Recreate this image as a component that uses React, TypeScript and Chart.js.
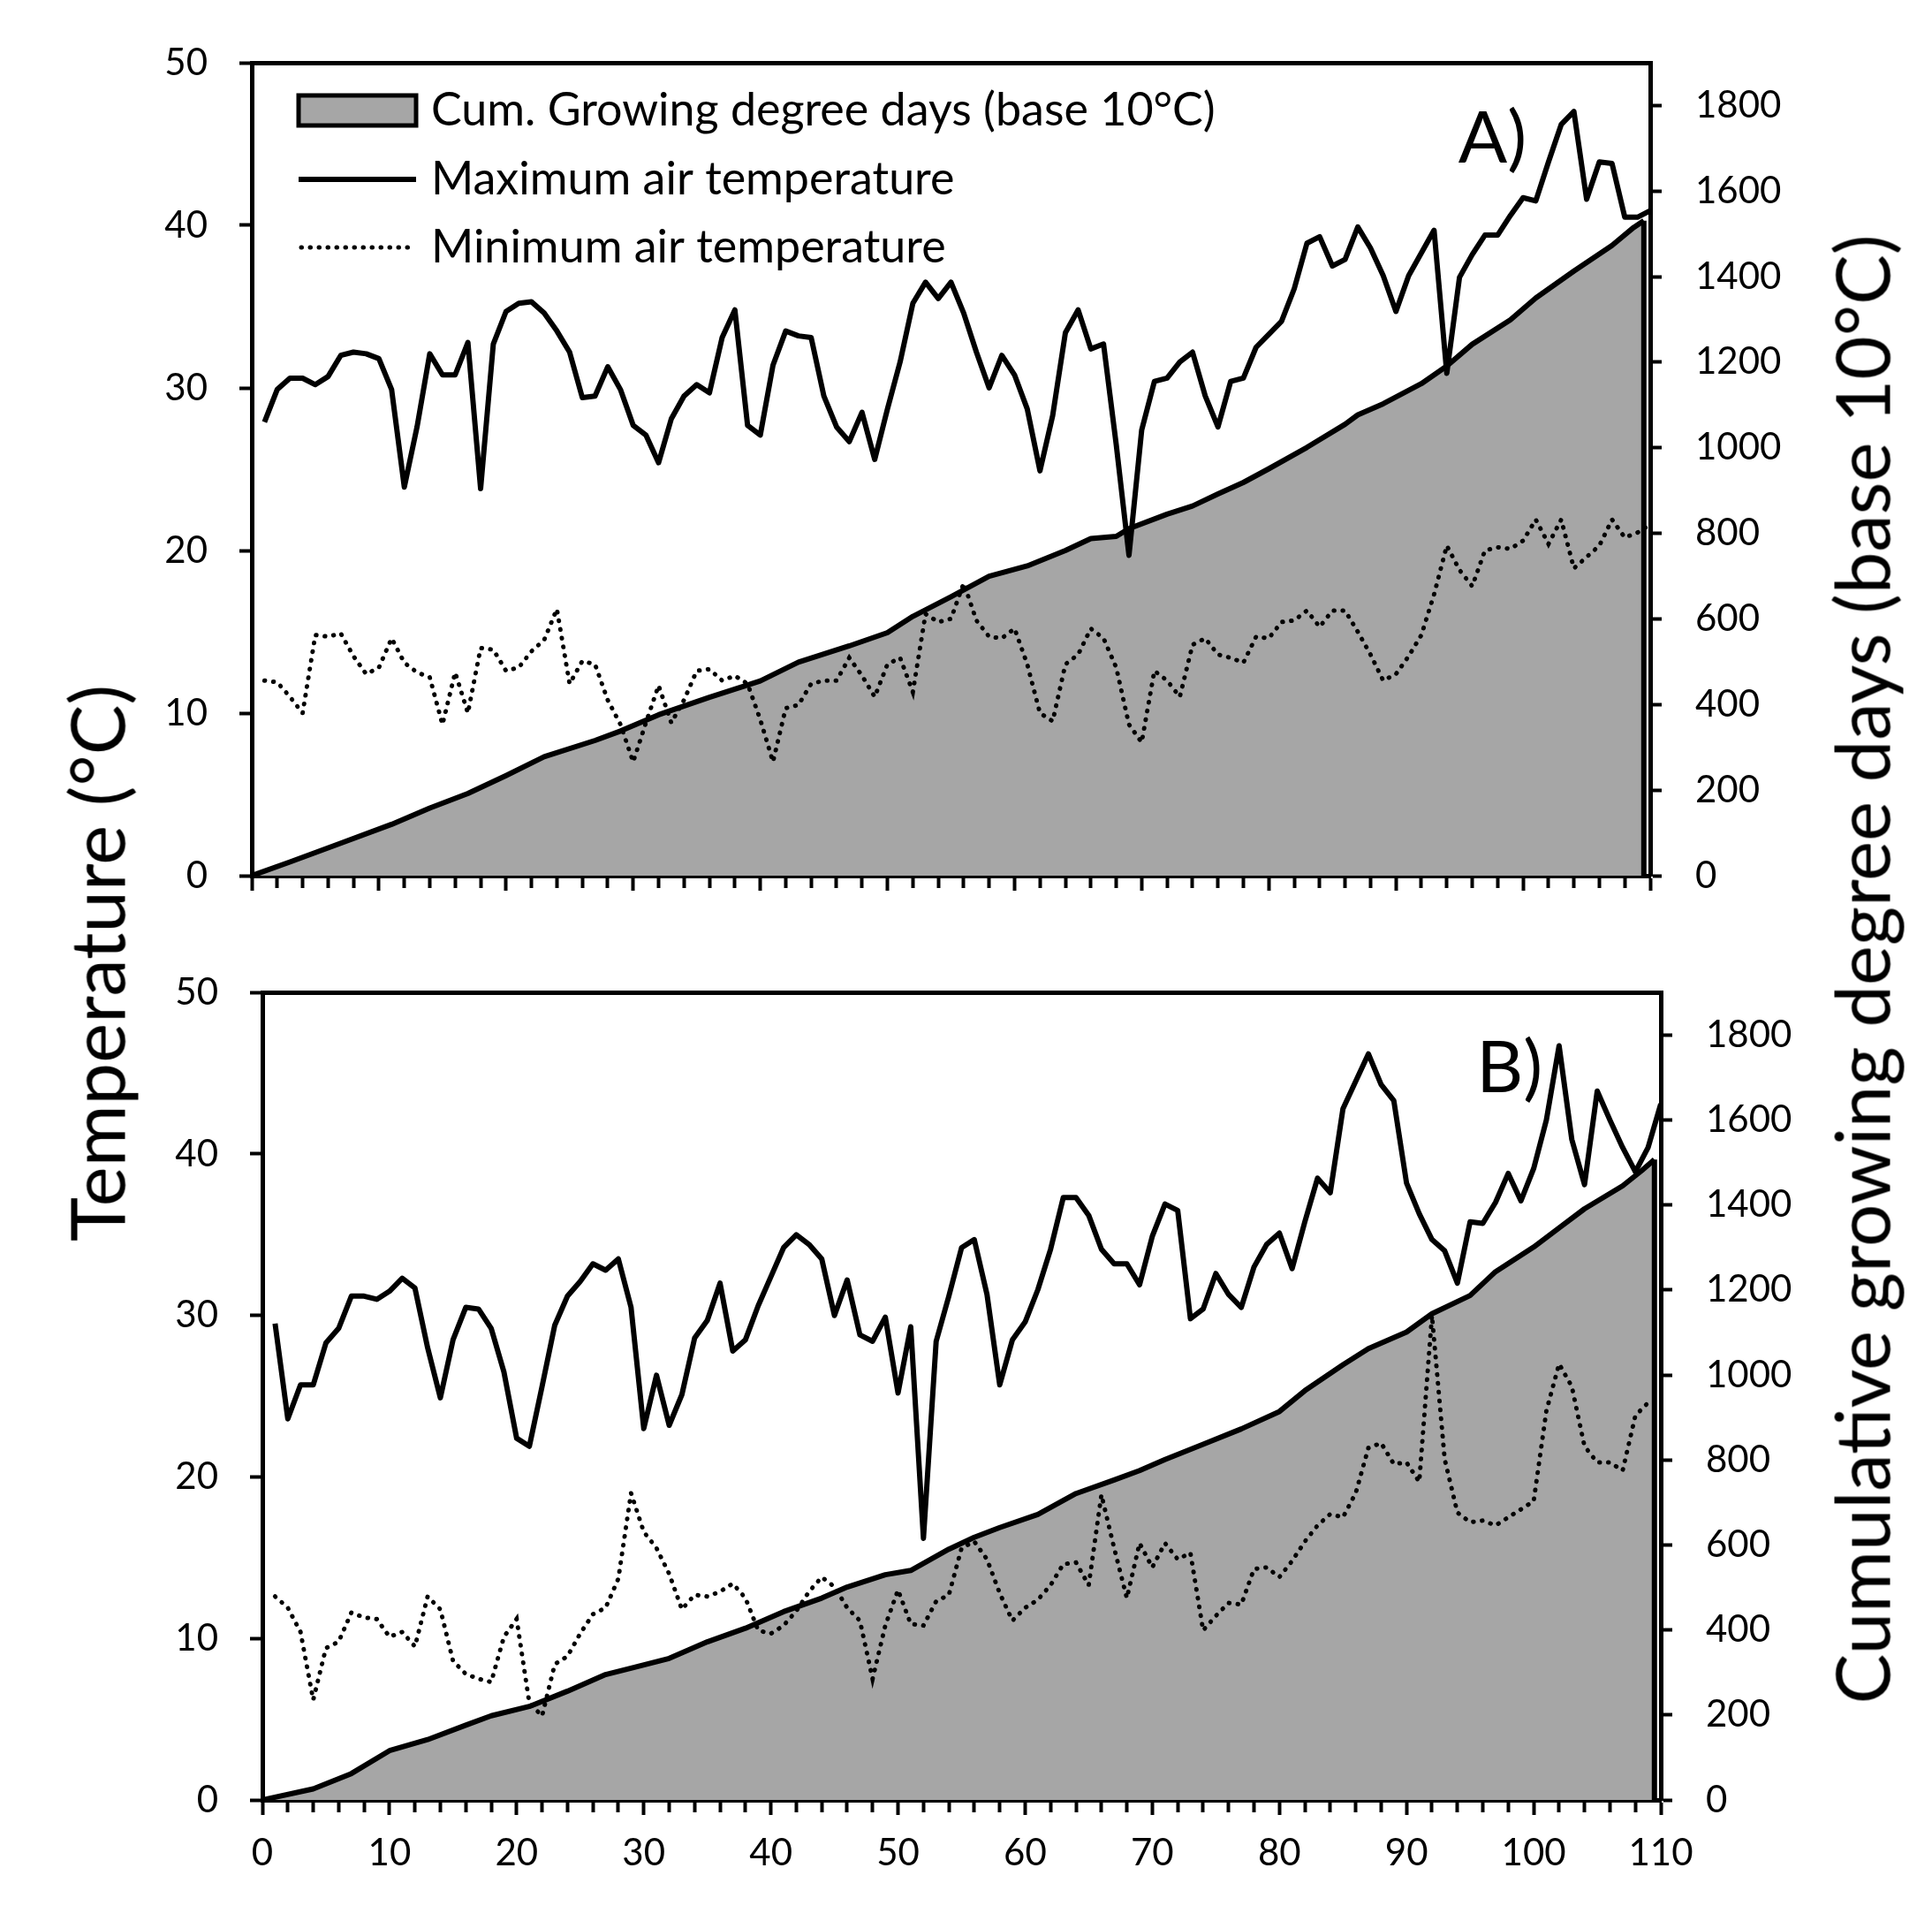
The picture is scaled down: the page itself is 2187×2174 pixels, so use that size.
import { useEffect, useRef } from 'react';
import { Chart, registerables } from 'chart.js';

Chart.register(...registerables);

const FONT = 'Lato, "Open Sans", sans-serif';

// axes
const X_MAX = 110;
const X_TICKS = Array.from({ length: 56 }, (_, i) => i * 2);
const TEMP_TICKS = [0, 10, 20, 30, 40, 50];
const GDD_MAX = 1900;
const GDD_TICKS = [0, 200, 400, 600, 800, 1000, 1200, 1400, 1600, 1800];

// panel A - daily max / min air temperature (day 1..110)
const A_MAX = [
  27.9, 29.9, 30.6, 30.6, 30.2, 30.7, 32.0, 32.2, 32.1, 31.8,
  29.9, 23.9, 27.6, 32.1, 30.8, 30.8, 32.8, 23.8, 32.7, 34.7,
  35.2, 35.3, 34.6, 33.5, 32.2, 29.4, 29.5, 31.3, 29.9, 27.7,
  27.1, 25.4, 28.1, 29.5, 30.2, 29.7, 33.1, 34.8, 27.7, 27.1,
  31.4, 33.5, 33.2, 33.1, 29.5, 27.6, 26.7, 28.5, 25.6, 28.7,
  31.6, 35.2, 36.5, 35.5, 36.5, 34.6, 32.2, 30.0, 32.0, 30.8,
  28.7, 24.9, 28.3, 33.4, 34.8, 32.4, 32.7, 26.5, 19.7, 27.4,
  30.4, 30.6, 31.6, 32.2, 29.5, 27.6, 30.4, 30.6, 32.5, 33.3,
  34.1, 36.1, 38.9, 39.3, 37.5, 37.9, 39.9, 38.6, 36.9, 34.7,
  36.9, 38.3, 39.7, 30.9, 36.8, 38.2, 39.4, 39.4, 40.6, 41.7,
  41.5, 43.9, 46.2, 47.0, 41.6, 43.9, 43.8, 40.5, 40.5, 40.9,
];
const A_MIN = [
  12.0, 11.9, 11.0, 10.0, 14.8, 14.7, 14.9, 13.5, 12.4, 12.8,
  14.6, 13.1, 12.5, 12.2, 9.3, 12.5, 10.0, 14.0, 13.9, 12.6,
  12.8, 13.8, 14.5, 16.4, 11.8, 13.2, 13.0, 10.8, 9.3, 7.0,
  9.4, 11.7, 9.4, 10.8, 12.6, 12.7, 12.0, 12.3, 11.8, 9.6,
  7.0, 10.3, 10.5, 11.8, 12.0, 12.0, 13.4, 12.3, 11.0, 13.0,
  13.4, 11.3, 16.1, 15.6, 15.8, 18.0, 15.7, 14.7, 14.6, 15.2,
  13.0, 10.0, 9.5, 13.0, 13.6, 15.2, 14.6, 12.8, 9.3, 8.2,
  12.6, 12.0, 11.0, 14.2, 14.6, 13.6, 13.4, 13.1, 14.7, 14.6,
  15.6, 15.7, 16.3, 15.3, 16.3, 16.3, 15.0, 13.6, 12.0, 12.4,
  13.5, 14.8, 17.3, 20.3, 18.8, 17.8, 20.0, 20.2, 20.1, 20.6,
  21.9, 20.4, 21.9, 18.9, 19.6, 20.3, 21.9, 20.8, 21.1, 21.6,
];
// panel A - cumulative growing degree days
const A_GDD_DAY = [
  0, 3, 7, 11, 14, 17, 20, 23, 27, 29, 32, 36, 40, 43, 47, 50, 52, 55, 58, 61,
  64, 66, 68, 69, 72, 74, 76, 78, 80, 83, 86, 87, 89, 92, 94, 96, 99, 101, 104,
  107, 108.7, 109.5,
];
const A_GDD = [
  0, 32, 76, 120, 158, 192, 234, 278, 316, 338, 376, 417, 455, 499, 537, 568, 606,
  652, 700, 724, 760, 788, 793, 811, 845, 864, 892, 919, 951, 1001, 1055, 1077,
  1103, 1150, 1191, 1242, 1299, 1350, 1413, 1473, 1515, 1531,
];

// panel B - daily max (day 1..110) / min (day 1..109) air temperature
const B_MAX = [
  29.5, 23.6, 25.7, 25.7, 28.3, 29.2, 31.2, 31.2, 31.0, 31.5,
  32.3, 31.7, 28.0, 24.9, 28.5, 30.5, 30.4, 29.2, 26.5, 22.4,
  21.9, 25.6, 29.4, 31.2, 32.1, 33.2, 32.8, 33.5, 30.5, 23.0,
  26.3, 23.2, 25.1, 28.6, 29.7, 32.0, 27.8, 28.5, 30.6, 32.4,
  34.2, 35.0, 34.4, 33.5, 30.0, 32.2, 28.8, 28.4, 29.9, 25.2,
  29.3, 16.2, 28.4, 31.2, 34.2, 34.7, 31.3, 25.7, 28.5, 29.6,
  31.6, 34.1, 37.3, 37.3, 36.2, 34.1, 33.2, 33.2, 31.9, 34.9,
  36.9, 36.5, 29.8, 30.4, 32.6, 31.3, 30.5, 33.0, 34.4, 35.1,
  32.9, 35.8, 38.5, 37.6, 42.8, 44.5, 46.2, 44.3, 43.3, 38.2,
  36.3, 34.7, 34.0, 32.0, 35.8, 35.7, 37.0, 38.8, 37.1, 39.1,
  42.1, 46.7, 40.9, 38.1, 43.9, 42.1, 40.4, 38.9, 40.4, 43.1,
];
const B_MIN = [
  12.6, 11.9, 10.4, 6.2, 9.4, 9.8, 11.6, 11.3, 11.2, 10.1,
  10.4, 9.5, 12.6, 11.8, 8.6, 7.8, 7.5, 7.3, 10.1, 11.2,
  6.0, 5.2, 8.4, 8.9, 10.3, 11.5, 11.9, 13.7, 19.0, 16.6,
  15.6, 14.0, 11.8, 12.7, 12.6, 12.9, 13.4, 12.5, 10.5, 10.3,
  10.8, 11.7, 12.9, 13.8, 13.2, 11.9, 11.1, 7.5, 10.8, 13.0,
  10.9, 10.8, 12.3, 12.7, 15.6, 16.0, 14.9, 12.8, 11.1, 11.9,
  12.4, 13.3, 14.6, 14.7, 13.3, 18.9, 15.6, 12.5, 15.9, 14.4,
  15.9, 14.9, 15.3, 10.5, 11.4, 12.2, 12.1, 14.3, 14.4, 13.8,
  14.8, 16.0, 17.0, 17.7, 17.5, 19.0, 21.8, 22.1, 20.8, 20.9,
  19.7, 30.0, 21.1, 17.8, 17.2, 17.3, 17.0, 17.5, 18.0, 18.5,
  24.1, 27.0, 25.6, 21.9, 20.9, 20.9, 20.4, 23.8, 24.6,
];
// panel B - cumulative growing degree days
const B_GDD_DAY = [
  0, 4, 7, 10, 13, 16, 18, 21, 24, 27, 29, 32, 35, 38, 41, 44, 46, 49, 51, 54,
  56, 58, 61, 64, 67, 69, 71, 74, 77, 80, 82, 85, 87, 90, 92, 95, 97, 100, 102,
  104, 107, 108.5, 109.5,
];
const B_GDD = [
  0, 26, 62, 116, 142, 176, 198, 220, 256, 295, 310, 333, 372, 404, 443, 475, 501,
  530, 540, 590, 618, 641, 672, 721, 753, 775, 801, 837, 873, 914, 963, 1024,
  1062, 1101, 1144, 1187, 1243, 1301, 1346, 1391, 1445, 1481, 1507,
];

const LABEL_MAX = 'Maximum air temperature';
const LABEL_MIN = 'Minimum air temperature';
const LABEL_GDD = 'Cum. Growing degree days (base 10°C)';

const AREA_GREY = '#a6a6a6';
const DOT_DASH = [0.5, 9.5];
const LINE_W = 6;
const DOT_W = 5;
const AXIS_W = 5;

// closes the right-hand edge of the GDD area down to the axis, like the Excel outline
const areaEdge = {
  id: 'areaEdge',
  afterDatasetDraw(chart: any, args: any) {
    if (args.meta.yAxisID !== 'y1') return;
    const pts = args.meta.data;
    if (!pts.length) return;
    const last = pts[pts.length - 1];
    const base = chart.scales.y1.getPixelForValue(0);
    const ctx = chart.ctx;
    ctx.save();
    ctx.strokeStyle = '#000';
    ctx.lineWidth = LINE_W;
    ctx.beginPath();
    ctx.moveTo(last.x, last.y);
    ctx.lineTo(last.x, base);
    ctx.stroke();
    ctx.restore();
  },
};

// "A)" / "B)" placed with the chart's own scales
const panelLabel = {
  id: 'panelLabel',
  afterDraw(chart: any, _args: any, opts: any) {
    if (!opts || !opts.text) return;
    const ctx = chart.ctx;
    const x = chart.scales.x.getPixelForValue(opts.day);
    const y = chart.scales.y1.getPixelForValue(opts.gdd);
    ctx.save();
    ctx.fillStyle = '#000';
    ctx.font = `82px ${FONT}`;
    ctx.textBaseline = 'alphabetic';
    ctx.fillText(opts.text, x, y);
    ctx.restore();
  },
};

// Excel-style legend inside the top plot
const gddLegend = {
  id: 'gddLegend',
  afterDraw(chart: any, _args: any, opts: any) {
    if (!opts || !opts.show) return;
    const { ctx, chartArea: a } = chart;
    const x0 = a.left + 53;
    const w = 133;
    const tx = a.left + 203;
    const rows = [a.top + 54, a.top + 132, a.top + 209];
    ctx.save();
    ctx.fillStyle = AREA_GREY;
    ctx.fillRect(x0, rows[0] - 17, w, 34);
    ctx.strokeStyle = '#000';
    ctx.lineWidth = AXIS_W;
    ctx.strokeRect(x0, rows[0] - 17, w, 34);

    ctx.lineWidth = LINE_W;
    ctx.beginPath();
    ctx.moveTo(x0, rows[1]);
    ctx.lineTo(x0 + w, rows[1]);
    ctx.stroke();

    ctx.lineWidth = DOT_W;
    ctx.lineCap = 'round';
    ctx.setLineDash(DOT_DASH);
    ctx.beginPath();
    ctx.moveTo(x0 + 3, rows[2]);
    ctx.lineTo(x0 + w, rows[2]);
    ctx.stroke();
    ctx.setLineDash([]);

    ctx.fillStyle = '#000';
    ctx.font = `52px ${FONT}`;
    ctx.textBaseline = 'middle';
    ctx.fillText(LABEL_GDD, tx, rows[0]);
    ctx.fillText(LABEL_MAX, tx, rows[1]);
    ctx.fillText(LABEL_MIN, tx, rows[2]);
    ctx.restore();
  },
};

interface PanelProps {
  maxT: number[];
  minT: number[];
  gddDay: number[];
  gdd: number[];
  label: string;
  labelDay: number;
  labelGdd: number;
  legend: boolean;
  xLabels: boolean;
  top: number;
  height: number;
  areaTop: number;
  areaLeft: number;
  areaRight: number;
  xAxisHeight: number;
}

function Panel(p: PanelProps) {
  const canvasRef = useRef<HTMLCanvasElement>(null);

  useEffect(() => {
    if (!canvasRef.current) return;
    const tickFont = { family: FONT, size: 42 };

    const chart = new Chart(canvasRef.current, {
      type: 'line',
      data: {
        datasets: [
          {
            label: LABEL_MAX,
            data: p.maxT.map((y, i) => ({ x: i + 1, y })),
            borderColor: '#000',
            borderWidth: LINE_W,
            borderJoinStyle: 'round',
            pointRadius: 0,
            tension: 0,
            fill: false,
            yAxisID: 'y',
            order: 0,
          },
          {
            label: LABEL_MIN,
            data: p.minT.map((y, i) => ({ x: i + 1, y })),
            borderColor: '#000',
            borderWidth: DOT_W,
            borderDash: DOT_DASH,
            borderCapStyle: 'round',
            pointRadius: 0,
            tension: 0,
            fill: false,
            yAxisID: 'y',
            order: 1,
          },
          {
            label: LABEL_GDD,
            data: p.gddDay.map((x, i) => ({ x, y: p.gdd[i] })),
            borderColor: '#000',
            borderWidth: LINE_W,
            borderJoinStyle: 'round',
            backgroundColor: AREA_GREY,
            pointRadius: 0,
            tension: 0,
            fill: 'origin',
            yAxisID: 'y1',
            order: 2,
          },
        ],
      },
      options: {
        animation: false,
        responsive: true,
        maintainAspectRatio: false,
        events: [],
        layout: { padding: { top: p.areaTop, bottom: 0, left: 0, right: 0 } },
        plugins: {
          legend: { display: false },
          tooltip: { enabled: false },
          panelLabel: { text: p.label, day: p.labelDay, gdd: p.labelGdd },
          gddLegend: { show: p.legend },
        } as any,
        scales: {
          x: {
            type: 'linear',
            position: 'bottom',
            min: 0,
            max: X_MAX,
            afterBuildTicks: (axis: any) => {
              axis.ticks = X_TICKS.map((v) => ({ value: v }));
            },
            afterFit: (axis: any) => {
              axis.height = p.xAxisHeight;
            },
            ticks: {
              display: p.xLabels,
              autoSkip: false,
              maxRotation: 0,
              padding: 18,
              color: '#000',
              font: tickFont,
              callback: (v: any) => (Number(v) % 10 === 0 ? String(v) : ''),
            },
            grid: {
              drawOnChartArea: false,
              drawTicks: true,
              tickLength: 17,
              tickWidth: 4,
              tickColor: '#000',
              tickBorderDash: (c: any) =>
                c.tick && c.tick.value % 10 === 0 ? [] : [11, 40],
            },
            border: { display: true, color: '#000', width: AXIS_W },
          },
          xTop: {
            type: 'linear',
            position: 'top',
            min: 0,
            max: X_MAX,
            afterFit: (axis: any) => {
              axis.height = 0;
            },
            ticks: { display: false },
            grid: { display: false, drawTicks: false },
            border: { display: true, color: '#000', width: AXIS_W },
          },
          y: {
            type: 'linear',
            position: 'left',
            min: 0,
            max: 50,
            afterBuildTicks: (axis: any) => {
              axis.ticks = TEMP_TICKS.map((v) => ({ value: v }));
            },
            afterFit: (axis: any) => {
              axis.width = p.areaLeft;
            },
            ticks: {
              padding: 36,
              color: '#000',
              font: tickFont,
              callback: (v: any) => String(v),
            },
            grid: {
              drawOnChartArea: false,
              tickLength: 14,
              tickWidth: 4,
              tickColor: '#000',
            },
            border: { display: true, color: '#000', width: AXIS_W },
          },
          y1: {
            type: 'linear',
            position: 'right',
            min: 0,
            max: GDD_MAX,
            afterBuildTicks: (axis: any) => {
              axis.ticks = GDD_TICKS.map((v) => ({ value: v }));
            },
            afterFit: (axis: any) => {
              axis.width = 2187 - p.areaRight;
            },
            ticks: {
              padding: 38,
              color: '#000',
              font: tickFont,
              callback: (v: any) => String(v),
            },
            grid: {
              drawOnChartArea: false,
              tickLength: 13,
              tickWidth: 4,
              tickColor: '#000',
            },
            border: { display: true, color: '#000', width: AXIS_W },
          },
        },
      } as any,
      plugins: [areaEdge, panelLabel, gddLegend],
    });

    return () => {
      chart.destroy();
    };
  }, [p]);

  return (
    <div
      style={{
        position: 'absolute',
        left: 0,
        top: p.top,
        width: 2187,
        height: p.height,
      }}
    >
      <canvas ref={canvasRef} />
    </div>
  );
}

const PANEL_A: PanelProps = {
  maxT: A_MAX,
  minT: A_MIN,
  gddDay: A_GDD_DAY,
  gdd: A_GDD,
  label: 'A)',
  labelDay: 94.9,
  labelGdd: 1667,
  legend: true,
  xLabels: false,
  top: 0,
  height: 1060,
  areaTop: 71,
  areaLeft: 285,
  areaRight: 1868,
  xAxisHeight: 69,
};

const PANEL_B: PanelProps = {
  maxT: B_MAX,
  minT: B_MIN,
  gddDay: B_GDD_DAY,
  gdd: B_GDD,
  label: 'B)',
  labelDay: 95.5,
  labelGdd: 1665,
  legend: false,
  xLabels: true,
  top: 1060,
  height: 1114,
  areaTop: 57,
  areaLeft: 297,
  areaRight: 1880,
  xAxisHeight: 137,
};

function axisTitle(cx: number, cy: number): React.CSSProperties {
  return {
    position: 'absolute',
    left: cx,
    top: cy,
    transform: 'translate(-50%, -50%) rotate(-90deg)',
    whiteSpace: 'nowrap',
    fontFamily: FONT,
    fontSize: 85,
    lineHeight: 1,
    color: '#000',
  };
}

export default function App() {
  return (
    <div
      style={{
        position: 'absolute',
        left: 0,
        top: 0,
        width: 2187,
        height: 2174,
        background: '#fff',
        overflow: 'hidden',
      }}
    >
      <Panel {...PANEL_A} />
      <Panel {...PANEL_B} />
      <div style={axisTitle(109, 1090)}>Temperature (°C)</div>
      <div style={axisTitle(2107, 1097)}>
        Cumulative growing degree days (base 10°C)
      </div>
    </div>
  );
}
